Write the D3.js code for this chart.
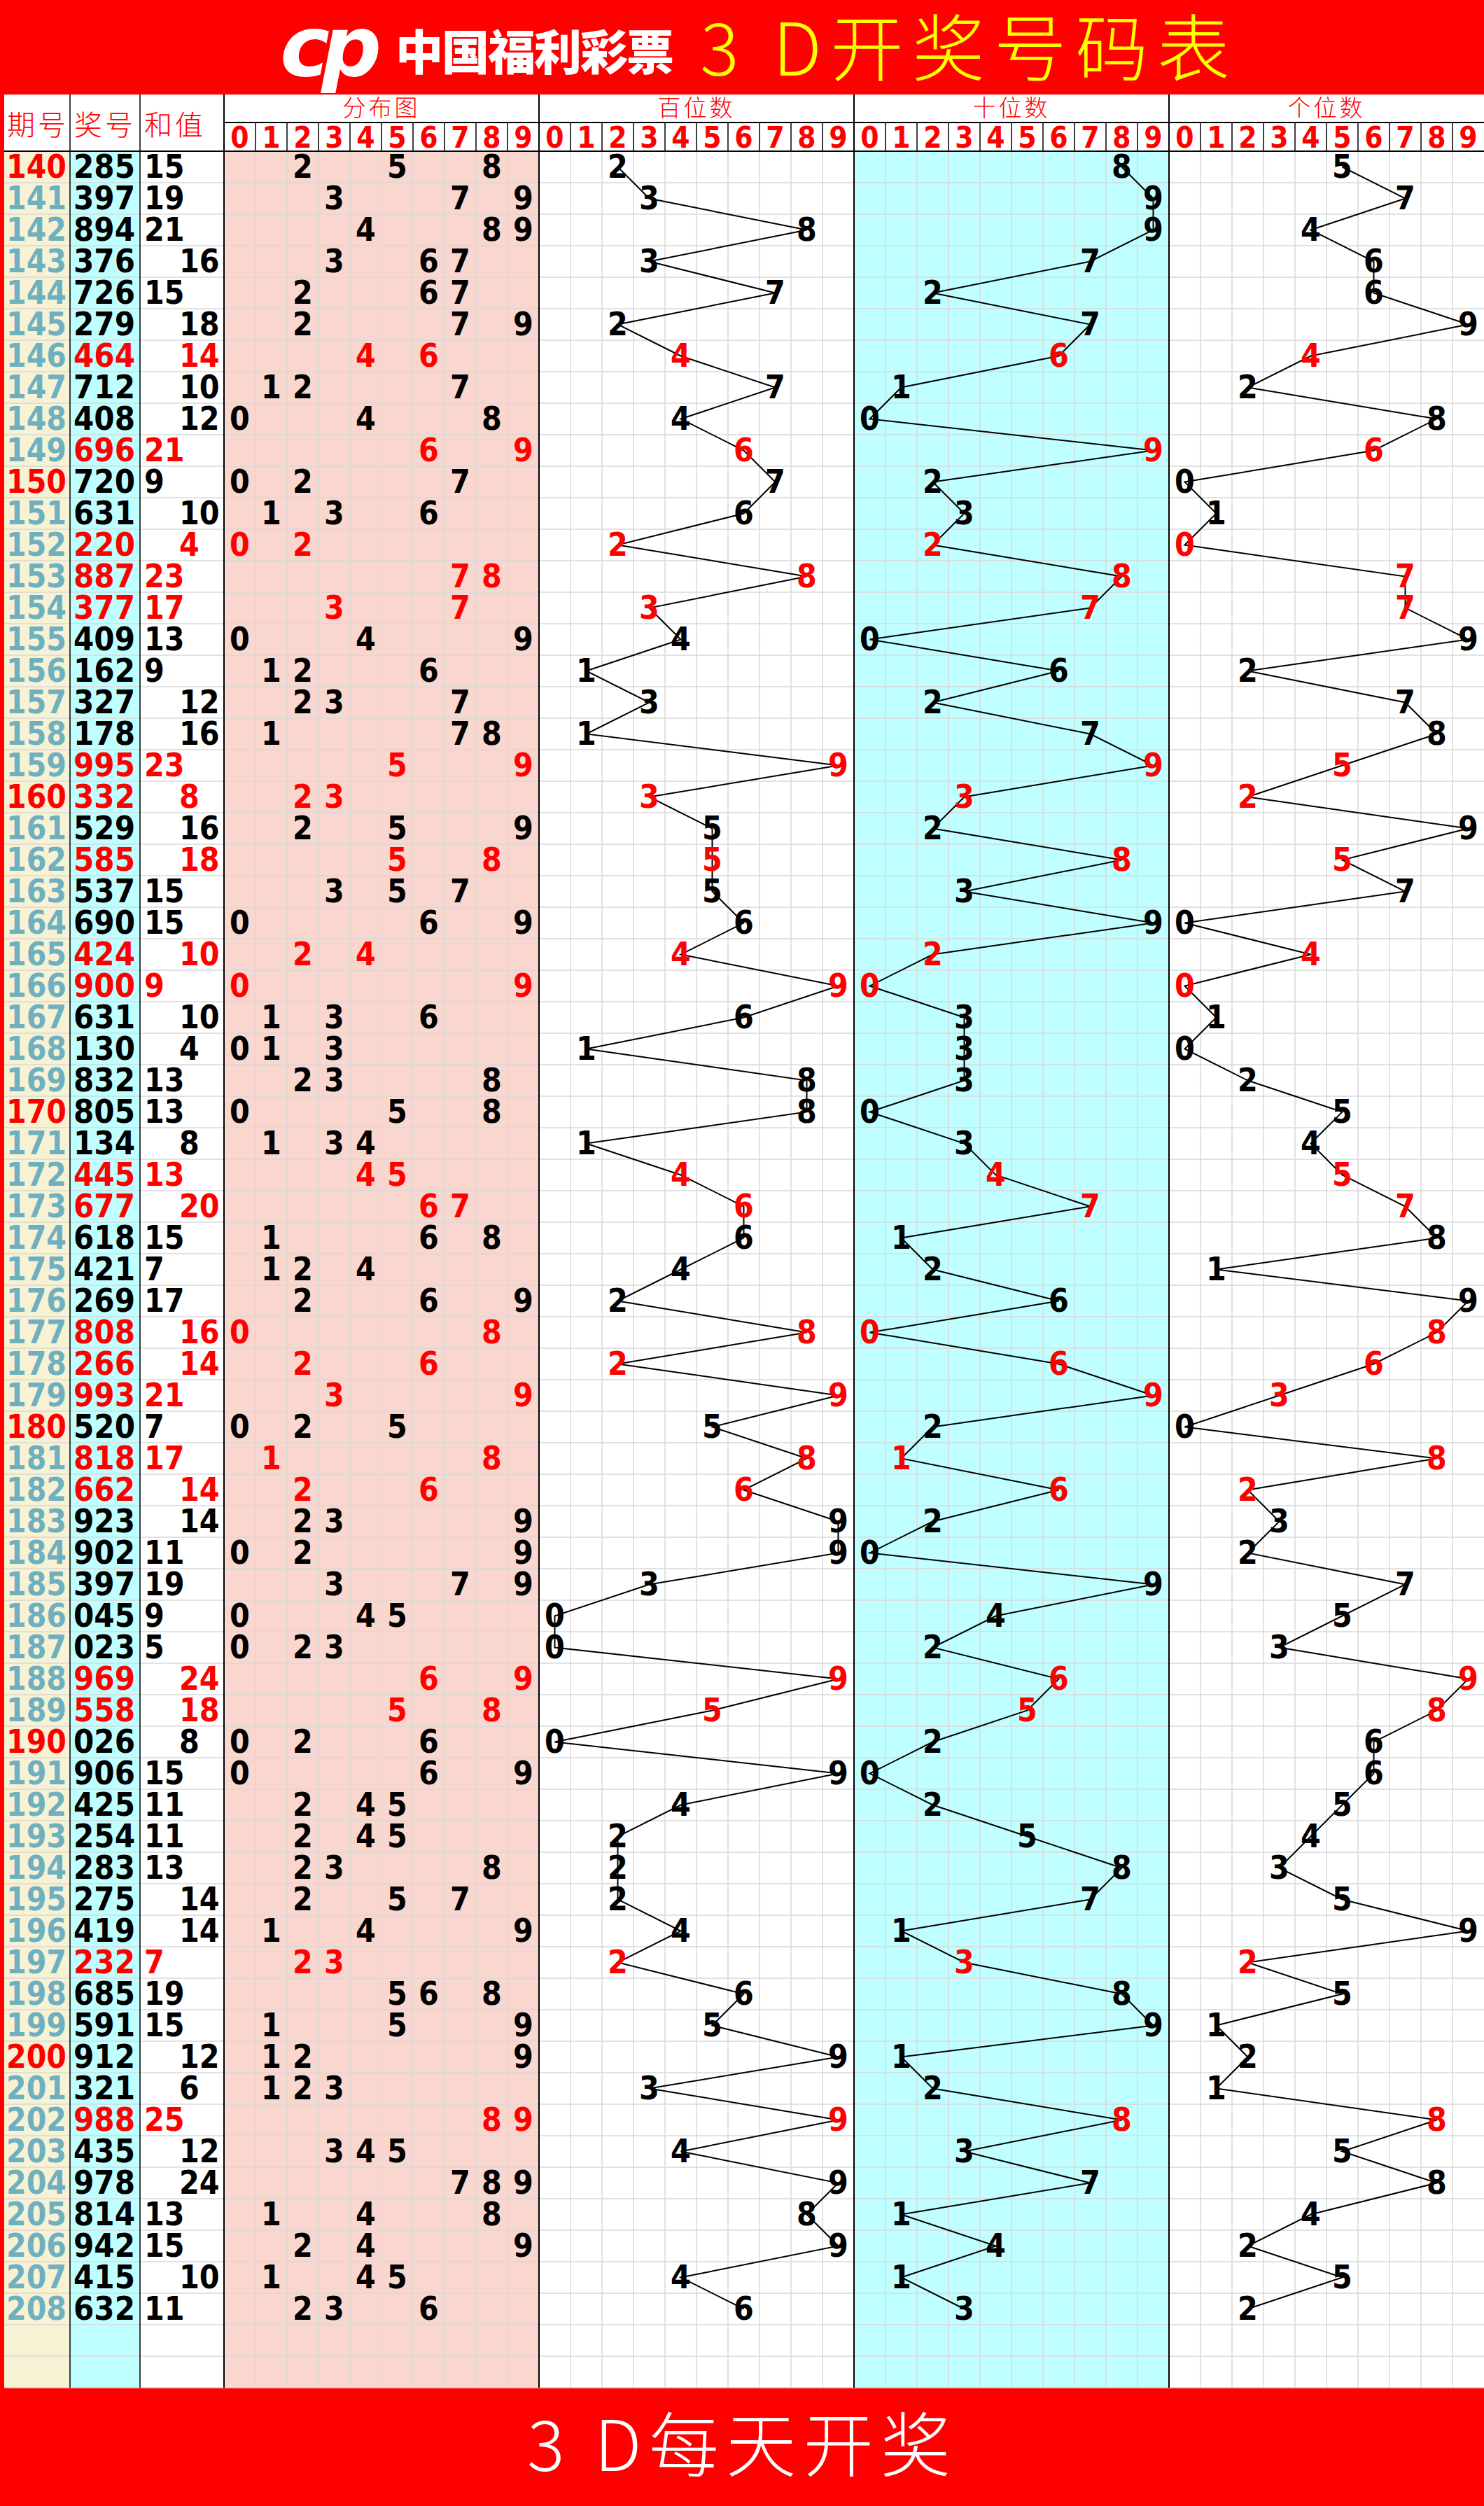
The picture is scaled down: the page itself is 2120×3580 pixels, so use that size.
<!DOCTYPE html>
<html><head><meta charset="utf-8">
<script src="https://cdn.jsdelivr.net/npm/d3@7"></script>
<style>body{margin:0;background:#fff}svg{display:block}</style>
</head><body>
<div id="chart"></div>
<script>
// draw results, issue 140..208
const issues = d3.range(140, 209);
const numbers = ["285","397","894","376","726","279","464","712","408","696",
  "720","631","220","887","377","409","162","327","178","995",
  "332","529","585","537","690","424","900","631","130","832",
  "805","134","445","677","618","421","269","808","266","993",
  "520","818","662","923","902","397","045","023","969","558",
  "026","906","425","254","283","275","419","232","685","591",
  "912","321","988","435","978","814","942","415","632"];
const sums = [15,19,21,16,15,18,14,10,12,21,9,10,4,23,17,13,9,12,16,23,
  8,16,18,15,15,10,9,10,4,13,13,8,13,20,15,7,17,16,14,21,
  7,17,14,14,11,19,9,5,24,18,8,15,11,11,13,14,14,7,19,15,
  12,6,25,12,24,13,15,10,11];
const digits = d3.range(10);
const sections = ["分布图", "百位数", "十位数", "个位数"];
const emptyRows = 2;

const W = 2120, H = 3580;
const tableTop = 216, rowH = 45, nRows = issues.length + emptyRows;
const tableBottom = tableTop + rowH * nRows;
const secX = [320, 770, 1220, 1670], secW = 450;

const svg = d3.select("#chart").append("svg").attr("width", W).attr("height", H);
const numFont = "'DejaVu Sans Condensed','DejaVu Sans',sans-serif";
const cjk = "'Noto Sans CJK SC',sans-serif";

svg.append("rect").attr("width", W).attr("height", H).attr("fill", "#ff0000");
svg.append("rect").attr("x", 6).attr("y", 135).attr("width", W - 6).attr("height", tableBottom - 135).attr("fill", "#fff");

const y = d3.scaleBand().domain(d3.range(nRows)).range([tableTop, tableBottom]);
const cell = secX.map(x0 => d3.scaleBand().domain(digits).range([x0, x0 + secW]));

// column backgrounds
const bgs = [[6, 100, "#f7f2d4"], [100, 200, "#c0ffff"], [320, 770, "#f9d7cf"], [1220, 1670, "#c0ffff"]];
svg.selectAll("rect.bg").data(bgs).join("rect")
  .attr("x", d => d[0]).attr("y", tableTop).attr("width", d => d[1] - d[0]).attr("height", tableBottom - tableTop)
  .attr("fill", d => d[2]);

// grid
const grid = svg.append("g").attr("stroke", "#d8d8d8").attr("stroke-width", 1.5);
grid.selectAll("line.h").data(d3.range(1, nRows + 1)).join("line")
  .attr("x1", 6).attr("x2", W).attr("y1", i => tableTop + i * rowH).attr("y2", i => tableTop + i * rowH);
cell.forEach(s => {
  grid.append("g").selectAll("line").data(digits.slice(1)).join("line")
    .attr("x1", d => s(d)).attr("x2", d => s(d)).attr("y1", tableTop).attr("y2", tableBottom);
});

// header
const hd = svg.append("g").attr("stroke", "#000").attr("stroke-width", 2);
hd.append("line").attr("x1", 6).attr("x2", W).attr("y1", tableTop).attr("y2", tableTop);
hd.append("line").attr("x1", 320).attr("x2", W).attr("y1", 175).attr("y2", 175);
[100, 200, 320, 770, 1220, 1670].forEach(x => hd.append("line").attr("x1", x).attr("x2", x).attr("y1", 135).attr("y2", tableBottom).attr("stroke-width", x >= 320 ? 2 : 1.5));
cell.forEach(s => digits.slice(1).forEach(d =>
  hd.append("line").attr("x1", s(d)).attr("x2", s(d)).attr("y1", 175).attr("y2", tableTop).attr("stroke-width", 1.5)));

[["期号", 10], ["奖号", 106], ["和值", 206]].forEach(([t, x]) =>
  svg.append("text").attr("x", x).attr("y", 193).attr("fill", "#ff0000").attr("font-family", cjk)
    .attr("font-size", 40).attr("font-weight", 300).attr("letter-spacing", 4).text(t));
sections.forEach((t, i) =>
  svg.append("text").attr("x", secX[i] + secW / 2).attr("y", 166).attr("text-anchor", "middle")
    .attr("fill", "#ff0000").attr("font-family", cjk).attr("font-weight", 300).attr("font-size", 33).attr("letter-spacing", 4).text(t));
cell.forEach(s => svg.append("g").selectAll("text").data(digits).join("text")
  .attr("x", d => s(d) + s.bandwidth() / 2).attr("y", 211).attr("text-anchor", "middle")
  .attr("fill", "#ff0000").attr("font-family", numFont).attr("font-weight", "bold").attr("font-size", 42).text(d => d));

// rows
const rows = issues.map((iss, i) => {
  const ds = numbers[i].split("").map(Number);
  return { i, iss, num: numbers[i], ds, sum: sums[i], pair: new Set(ds).size < 3 };
});
const base = i => y(i) + rowH - 7;
const txt = (g) => g.attr("font-family", numFont).attr("font-weight", "bold").attr("font-size", 46);

txt(svg.append("g").selectAll("text").data(rows).join("text"))
  .attr("x", 9).attr("y", d => base(d.i)).attr("textLength", 86).attr("lengthAdjust", "spacingAndGlyphs")
  .attr("fill", d => d.iss % 10 === 0 ? "#ff0000" : "#6fb0c0").text(d => d.iss);
txt(svg.append("g").selectAll("text").data(rows).join("text"))
  .attr("x", 105).attr("y", d => base(d.i)).attr("textLength", 88).attr("lengthAdjust", "spacingAndGlyphs")
  .attr("fill", d => d.pair ? "#ff0000" : "#000").text(d => d.num);
txt(svg.append("g").selectAll("text").data(rows).join("text"))
  .attr("x", d => d.sum % 2 ? 206 : 256)
  .attr("y", d => base(d.i)).attr("fill", d => d.pair ? "#ff0000" : "#000").text(d => d.sum);

// distribution
const dist = rows.flatMap(r => Array.from(new Set(r.ds)).map(v => ({ r, v })));
txt(svg.append("g").selectAll("text").data(dist).join("text"))
  .attr("x", d => cell[0](d.v) + cell[0].bandwidth() / 2).attr("y", d => base(d.r.i)).attr("text-anchor", "middle")
  .attr("fill", d => d.r.pair ? "#ff0000" : "#000").text(d => d.v);

// position charts
[0, 1, 2].forEach(p => {
  const s = cell[p + 1];
  const cx = d => s(d.ds[p]) + s.bandwidth() / 2;
  const cy = d => y(d.i) + rowH / 2;
  svg.append("path").datum(rows)
    .attr("d", d3.line().x(cx).y(cy))
    .attr("fill", "none").attr("stroke", "#000").attr("stroke-width", 2);
  txt(svg.append("g").selectAll("text").data(rows).join("text"))
    .attr("x", cx).attr("y", d => base(d.i)).attr("text-anchor", "middle")
    .attr("fill", d => d.pair ? "#ff0000" : "#000").text(d => d.ds[p]);
});

// title
const logo = svg.append("g").attr("fill", "#fff");
logo.append("text").attr("x", 400).attr("y", 108).attr("font-family", "'DejaVu Sans',sans-serif")
  .attr("font-weight", "bold").attr("font-style", "italic").attr("font-size", 120).attr("letter-spacing", -12).text("cp");
logo.append("text").attr("x", 565).attr("y", 100).attr("font-family", cjk).attr("font-weight", 900)
  .attr("font-size", 68).attr("letter-spacing", -2).text("中国福利彩票");
svg.append("text").attr("x", 1000).attr("y", 108).attr("fill", "#ffff00").attr("font-family", cjk)
  .attr("font-weight", 300).attr("font-size", 104).attr("textLength", 757).text("3 D开奖号码表");
svg.append("text").attr("x", 753).attr("y", 3530).attr("fill", "#fff")
  .attr("font-family", cjk).attr("font-weight", 300).attr("font-size", 100).attr("textLength", 605).text("3 D每天开奖");
</script>
</body></html>
